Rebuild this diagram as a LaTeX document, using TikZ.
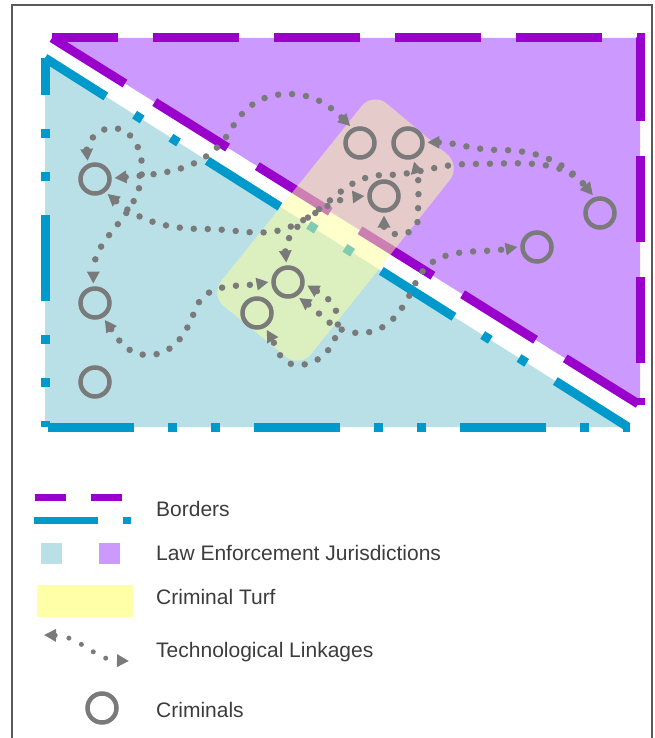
\documentclass[tikz,border=0pt]{standalone}
\usepackage{fontspec}
\setmainfont{Liberation Sans}
\usetikzlibrary{arrows.meta}
\definecolor{purpleline}{RGB}{153,0,204}
\definecolor{purplefill}{RGB}{204,153,255}
\definecolor{blueline}{RGB}{0,153,204}
\definecolor{bluefill}{RGB}{185,224,230}
\definecolor{turf}{RGB}{255,255,153}
\definecolor{crim}{RGB}{122,122,122}
\definecolor{labeltext}{RGB}{60,60,60}
\tikzset{
	linkhead/.tip={Triangle[length=12pt,width=12pt]},
	purpleborder/.style={draw=purpleline, line width=9pt, dash pattern=on 86pt off 35pt},
	blueborder/.style={draw=blueline, line width=9pt, dash pattern=on 86pt off 34pt on 9pt off 34pt on 9pt off 34pt},
	criminal/.style={circle, draw=crim, line width=4.5pt, minimum size=29pt, inner sep=0pt, outer sep=5pt},
	link/.style={draw=crim, line width=6.5pt, line cap=round, dash pattern=on 0pt off 14pt, linkhead-linkhead},
	legendtext/.style={anchor=west, text=labeltext, font=\fontsize{21}{25}\selectfont, inner sep=0pt},
}
\begin{document}
\begin{tikzpicture}[x=1pt, y=-1pt, line join=miter]
	\useasboundingbox (0,0) rectangle (654,738);
	\draw[gray!70!black, line width=1.5pt] (12,738) -- (12,5) -- (652,5) -- (652,738);
	% jurisdictions
	\fill[purplefill] (52,38) -- (640,38) -- (640,405) -- cycle;
	\fill[bluefill] (45,58) -- (45,427) -- (628,427) -- cycle;
	% borders
	\draw[purpleborder, dash phase=20pt] (52,38) -- (640,38) -- (640,405);
	\draw[purpleborder] (52,38) -- (640,405);
	\draw[blueborder, dash phase=49pt] (45,58) -- (45,427);
	\draw[blueborder, dash phase=203pt] (45,427) -- (630,427);
	\draw[blueborder, dash phase=14pt] (45,58) -- (628,427);
	% criminal turf
	\fill[turf, opacity=.5, rounded corners=18pt] (210,295) -- (373,92) -- (461,166) -- (300,368) -- cycle;
	% criminals
	\node[criminal] (c1) at (360,143) {};
	\node[criminal] (c2) at (408,143) {};
	\node[criminal] (c3) at (384,196) {};
	\node[criminal] (c4) at (600,213) {};
	\node[criminal] (c5) at (537,247) {};
	\node[criminal] (c6) at (95,179) {};
	\node[criminal] (c7) at (95,303) {};
	\node[criminal] (c8) at (95,382) {};
	\node[criminal] (c9) at (288,282) {};
	\node[criminal] (c10) at (257,313) {};
	% technological linkages
	\draw[link] (c6.112) to[out=95,in=180] (112,128) to[out=0,in=90] (142,168) to[out=-90,in=90] (c7.95);
	\draw[link] (c6.3) to[out=5,in=-120] (232,128) to[out=60,in=180] (288,94) to[out=0,in=135] (c1.120);
	\draw[link] (c6.-50) to[out=-40,in=180] (205,229) to[out=0,in=-150] (300,222) to[out=30,in=185] (c3.180);
	\draw[link] (c7.-60) to[out=-55,in=180] (148,355) to[out=0,in=-110] (195,310) to[out=70,in=190] (c9.180);
	\draw[link] (c9.-10) to[out=-30,in=90] (338,322) to[out=-90,in=0] (298,365) to[out=180,in=-60] (c10.-60);
	\draw[link] (c9.-55) to[out=-35,in=180] (360,333) to[out=0,in=-115] (416,282) to[out=65,in=190] (c5.180);
	\draw[link] (c3.-90) to[out=-90,in=-90,looseness=1.6] (418,218) to[out=90,in=-75] (c2.-72);
	\draw[link] (c2.2) to[out=0,in=180] (500,150) to[out=0,in=130] (c4.112);
	\draw[link] (c9.95) to[out=95,in=-145] (310,216) to[out=35,in=180] (385,175) to[out=0,in=180] (470,164) to[out=0,in=130] (c4.112);
	% legend
	\draw[purpleline, line width=7pt] (35,497) -- (66,497) (91,497) -- (122,497);
	\draw[blueline, line width=7pt] (34,520) -- (98,520) (123,520) -- (131,520);
	\fill[bluefill] (41,543) rectangle (62,564);
	\fill[purplefill] (99,543) rectangle (120,564);
	\fill[turf!85!white] (37,585) rectangle (133,617);
	\coordinate (la) at (44,635);
	\coordinate (lb) at (129,661);
	\draw[link, line width=5pt] (la) .. controls (80,636) and (95,660) .. (lb);
	\node[criminal] (lc) at (102,708) {};
	\node[legendtext] (t1) at (156,509) {Borders};
	\node[legendtext] (t2) at (156,553) {Law Enforcement Jurisdictions};
	\node[legendtext] (t3) at (156,597) {Criminal Turf};
	\node[legendtext] (t4) at (156,652) {Technological Linkages};
	\node[legendtext] (t5) at (156,710) {Criminals};
\end{tikzpicture}
\end{document}
